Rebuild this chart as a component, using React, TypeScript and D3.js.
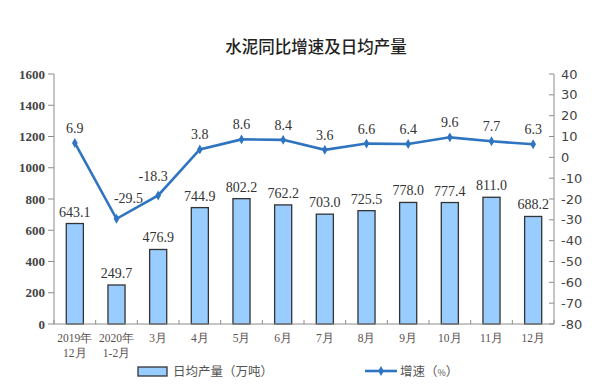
import React from "react";
import * as d3 from "d3";

const categories = ["2019年\n12月", "2020年\n1-2月", "3月", "4月", "5月", "6月", "7月", "8月", "9月", "10月", "11月", "12月"];
const output = [643.1, 249.7, 476.9, 744.9, 802.2, 762.2, 703.0, 725.5, 778.0, 777.4, 811.0, 688.2];
const growth = [6.9, -29.5, -18.3, 3.8, 8.6, 8.4, 3.6, 6.6, 6.4, 9.6, 7.7, 6.3];
const leftTicks = [0, 200, 400, 600, 800, 1000, 1200, 1400, 1600];
const rightTicks = [40, 30, 20, 10, 0, -10, -20, -30, -40, -50, -60, -70, -80];

const W = 600, H = 386;
const L = 54, R = 554, T = 74, B = 324;
const BAR_COLOR = "#99ccff";
const LINE_COLOR = "#2f74c0";
const AXIS = "#8c8c8c";
const SERIF = "'Liberation Serif', 'Times New Roman', serif";
const SANS = "'DejaVu Sans', sans-serif";
const CJK = "'Noto Sans CJK SC', sans-serif";
// label offsets for line labels (dx, dy) to avoid overlaps
const lineLabelOffset: Record<number, [number, number]> = { 1: [12, -16], 2: [-5, -14] };

export default function App() {
  const x = d3.scaleBand<number>().domain(d3.range(categories.length)).range([L, R]).paddingInner(0.59).paddingOuter(0.295);
  const xb = d3.scaleBand<number>().domain(d3.range(categories.length)).range([L, R]);
  const yL = d3.scaleLinear().domain([0, 1600]).range([B, T]);
  const yR = d3.scaleLinear().domain([-80, 40]).range([B, T]);
  const cx = (i: number) => (xb(i) as number) + xb.bandwidth() / 2;
  const line = d3.line<number>().x((_, i) => cx(i)).y((d) => yR(d));
  const diamond = d3.symbol().type(d3.symbolDiamond).size(28)();

  return (
    <svg width={W} height={H} style={{ position: "absolute", left: 0, top: 0, background: "#fff" }}>
      <text x={316} y={53} textAnchor="middle" fontFamily={CJK} fontSize={16.5} fontWeight={500} fill="#222">水泥同比增速及日均产量</text>

      {/* left axis */}
      <line x1={L} x2={L} y1={T} y2={B} stroke={AXIS} />
      {leftTicks.map((t) => (
        <g key={"l" + t}>
          <line x1={L - 6} x2={L} y1={yL(t)} y2={yL(t)} stroke={AXIS} />
          <text x={L - 9} y={yL(t) + 4.5} textAnchor="end" fontFamily={SERIF} fontSize={13} fontWeight="bold" fill="#444">{t}</text>
        </g>
      ))}
      {/* right axis */}
      <line x1={R} x2={R} y1={T} y2={B} stroke={AXIS} />
      {rightTicks.map((t) => (
        <g key={"r" + t}>
          <line x1={R - 5} x2={R} y1={yR(t)} y2={yR(t)} stroke={AXIS} />
          <text x={R + 7} y={yR(t) + 4.5} textAnchor="start" fontFamily={SANS} fontSize={13} fill="#444">{t}</text>
        </g>
      ))}

      {/* bars */}
      {output.map((v, i) => (
        <g key={"b" + i}>
          <rect x={x(i)} y={yL(v)} width={x.bandwidth()} height={B - yL(v)} fill={BAR_COLOR} stroke="#333" strokeWidth={1.3} />
          <text x={(x(i) as number) + x.bandwidth() / 2} y={yL(v) - 7} textAnchor="middle" fontFamily={SERIF} fontSize={14} fill="#333">{v.toFixed(1)}</text>
        </g>
      ))}

      {/* x axis */}
      <line x1={L} x2={R} y1={B} y2={B} stroke={AXIS} />
      {d3.range(categories.length + 1).map((i) => {
        const xx = i < categories.length ? (xb(i) as number) : R;
        return <line key={"xt" + i} x1={xx} x2={xx} y1={B} y2={B - 4} stroke={AXIS} />;
      })}
      {categories.map((c, i) => (
        <text key={"xl" + i} x={cx(i)} y={342} textAnchor="middle" fontFamily={SERIF} fontSize={11.5} fill="#5a5050">
          {c.split("\n").map((s, j) => (
            <tspan key={j} x={cx(i)} dy={j === 0 ? 0 : 15}>{s}</tspan>
          ))}
        </text>
      ))}

      {/* line */}
      <path d={line(growth) || ""} fill="none" stroke={LINE_COLOR} strokeWidth={2.6} />
      {growth.map((v, i) => {
        const [dx, dy] = lineLabelOffset[i] || [0, -10];
        return (
          <g key={"p" + i}>
            <path d={diamond || ""} transform={`translate(${cx(i)},${yR(v)})`} fill={LINE_COLOR} />
            <text x={cx(i) + dx} y={yR(v) + dy} textAnchor="middle" fontFamily={SERIF} fontSize={14} fill="#333">{v.toFixed(1)}</text>
          </g>
        );
      })}

      {/* legend */}
      <rect x={138} y={367} width={29} height={9} fill={BAR_COLOR} stroke="#333" strokeWidth={1.3} />
      <text x={173} y={376} fontFamily={CJK} fontSize={12.5} fill="#555">日均产量（万吨）</text>
      <line x1={365} x2={397} y1={371} y2={371} stroke={LINE_COLOR} strokeWidth={2.6} />
      <path d={diamond || ""} transform="translate(381,371)" fill={LINE_COLOR} />
      <text x={400} y={376} fontFamily={CJK} fontSize={12.5} fill="#555">增速（<tspan fontSize={9}>%</tspan>）</text>
    </svg>
  );
}
